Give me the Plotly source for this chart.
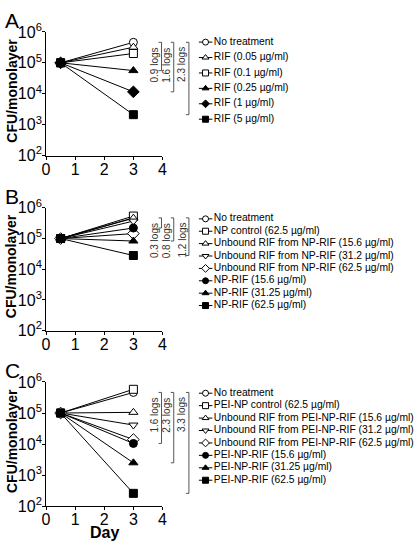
import math
import plotly.graph_objects as go

W, H = 416, 548
FONT = "Liberation Sans, Arial, sans-serif"

# ---------------- data ----------------
days = [0.5, 3]
start_cfu = 1e5

a_labels = ["No treatment", "RIF (0.05 µg/ml)", "RIF (0.1 µg/ml)",
            "RIF (0.25 µg/ml)", "RIF (1 µg/ml)", "RIF (5 µg/ml)"]
a_day3 = [4.6e5, 3.2e5, 2.0e5, 5.6e4, 1.15e4, 2.1e3]
a_symbols = ["circle", "triangle-up", "square", "triangle-up", "diamond", "square"]
a_filled = [False, False, False, True, True, True]
a_br_top = 4.6e5
a_br_bottom = [5.6e4, 1.15e4, 2.1e3]
a_br_text = ["0.9 logs", "1.6 logs", "2.3 logs"]

b_labels = ["No treatment", "NP control (62.5 µg/ml)",
            "Unbound RIF from NP-RIF (15.6 µg/ml)",
            "Unbound RIF from NP-RIF (31.2 µg/ml)",
            "Unbound RIF from NP-RIF (62.5 µg/ml)",
            "NP-RIF (15.6 µg/ml)", "NP-RIF (31.25 µg/ml)", "NP-RIF (62.5 µg/ml)"]
b_day3 = [4.7e5, 5.4e5, 4.6e5, 3.7e5, 1.45e5, 2.2e5, 8.3e4, 2.8e4]
b_symbols = ["circle", "square", "triangle-up", "triangle-down", "diamond",
             "circle", "triangle-up", "square"]
b_filled = [False, False, False, False, False, True, True, True]
b_br_top = 4.7e5
b_br_bottom = [2.2e5, 8.3e4, 2.8e4]
b_br_text = ["0.3 logs", "0.8 logs", "1.2 logs"]

c_labels = ["No treatment", "PEI-NP control (62.5 µg/ml)",
            "Unbound RIF from PEI-NP-RIF (15.6 µg/ml)",
            "Unbound RIF from PEI-NP-RIF (31.2 µg/ml)",
            "Unbound RIF from PEI-NP-RIF (62.5 µg/ml)",
            "PEI-NP-RIF (15.6 µg/ml)", "PEI-NP-RIF (31.25 µg/ml)",
            "PEI-NP-RIF (62.5 µg/ml)"]
c_day3 = [4.6e5, 5.8e5, 1.05e5, 4.1e4, 1.4e4, 1.05e4, 2.5e3, 2.6e2]
c_symbols = b_symbols
c_filled = b_filled
c_br_top = 4.6e5
c_br_bottom = [1.05e4, 2.5e3, 2.6e2]
c_br_text = ["1.6 logs", "2.3 logs", "3.3 logs"]

x_ticks = [0, 1, 2, 3, 4]
y_tickvals = [1e2, 1e3, 1e4, 1e5, 1e6]
y_ticktext = ["10<sup>2</sup>", "10<sup>3</sup>", "10<sup>4</sup>",
              "10<sup>5</sup>", "10<sup>6</sup>"]
panel_letters = ["A", "B", "C"]

# ---------------- layout helpers ----------------
def px_x(p):
    return p / W

def px_y(p):
    return 1 - p / H

plot_x = (43, 162)
plot_y = [(21.7, 150), (204.3, 331.7), (385, 514)]
legend_rows = [(32.3, 16.0), (215.7, 12.86), (396.7, 12.9)]
legend_x0 = 199          # px where the legend key line starts
legend_w = 20            # px width of the (invisible) legend axis
key_len = 14             # px length of the key line
text_at = 15.5           # px where the label anchor sits
bracket_px = [161, 173.5, 189]

panels = [
    (a_labels, a_day3, a_symbols, a_filled, a_br_top, a_br_bottom, a_br_text),
    (b_labels, b_day3, b_symbols, b_filled, b_br_top, b_br_bottom, b_br_text),
    (c_labels, c_day3, c_symbols, c_filled, c_br_top, c_br_bottom, c_br_text),
]

fig = go.Figure()
layout = dict(
    width=W, height=H, margin=dict(l=0, r=0, t=0, b=0),
    paper_bgcolor="white", plot_bgcolor="white",
    showlegend=False, font=dict(family=FONT, color="black"),
)
shapes = []
annotations = []

for k, (labels, day3, symbols, filled, br_top, br_bottom, br_text) in enumerate(panels):
    n = len(labels)
    xa = f"x{k+1}" if k else "x"
    ya = f"y{k+1}" if k else "y"
    lxa = f"x{k+4}"
    lya = f"y{k+4}"
    # data traces
    for i in range(n):
        fig.add_trace(go.Scatter(
            x=days, y=[start_cfu, day3[i]], mode="lines+markers",
            xaxis=xa, yaxis=ya, cliponaxis=False,
            line=dict(color="black", width=1),
            marker=dict(symbol=symbols[i], size=8 if symbols[i] != "diamond" else 9,
                        color="black" if filled[i] else "white",
                        line=dict(color="black", width=1)),
        ))
    # legend keys
    for i in range(n):
        fig.add_trace(go.Scatter(
            x=[0, key_len], y=[i, i], mode="lines", xaxis=lxa, yaxis=lya,
            line=dict(color="black", width=1), hoverinfo="skip"))
        fig.add_trace(go.Scatter(
            x=[key_len / 2], y=[i], mode="markers", xaxis=lxa, yaxis=lya,
            cliponaxis=False,
            marker=dict(symbol=symbols[i], size=6,
                        color="black" if filled[i] else "white",
                        line=dict(color="black", width=1)), hoverinfo="skip"))
    fig.add_trace(go.Scatter(
        x=[text_at] * n, y=list(range(n)), mode="text", text=labels,
        textposition="middle right", xaxis=lxa, yaxis=lya, cliponaxis=False,
        textfont=dict(size=10.3, family=FONT, color="black"), hoverinfo="skip"))

    top, bot = plot_y[k]
    xkey = "xaxis" + (str(k + 1) if k else "")
    ykey = "yaxis" + (str(k + 1) if k else "")
    layout[xkey] = dict(
        domain=[px_x(plot_x[0]), px_x(plot_x[1])], range=[0, 4], anchor=ya,
        tickvals=x_ticks, ticks="outside", ticklen=3, tickcolor="black",
        showline=True, linecolor="black", linewidth=1, showgrid=False,
        zeroline=False, ticklabelstandoff=-4,
        tickfont=dict(size=16, family=FONT, color="black"))
    layout[ykey] = dict(
        domain=[px_y(bot), px_y(top)], type="log", range=[2, 6], anchor=xa,
        tickvals=y_tickvals, ticktext=y_ticktext, ticks="outside", ticklen=3,
        tickcolor="black", showline=True, linecolor="black", linewidth=1,
        showgrid=False, zeroline=False, ticklabelstandoff=-3,
        tickfont=dict(size=16, family=FONT, color="black"))
    first, step = legend_rows[k]
    layout[f"xaxis{k+4}"] = dict(
        domain=[px_x(legend_x0), px_x(legend_x0 + legend_w)], range=[0, legend_w],
        anchor=lya, visible=False)
    layout[f"yaxis{k+4}"] = dict(
        domain=[px_y(first + (n - 0.5) * step), px_y(first - 0.5 * step)],
        range=[n - 0.5, -0.5], anchor=lxa, visible=False)

    # brackets
    for j, (bb, txt) in enumerate(zip(br_bottom, br_text)):
        bx = px_x(bracket_px[j])
        tick = px_x(3)
        for (x0, x1, y0, y1) in [(bx, bx, br_top, bb),
                                 (bx - tick, bx, br_top, br_top),
                                 (bx - tick, bx, bb, bb)]:
            shapes.append(dict(type="line", xref="paper", yref=ya,
                               x0=x0, x1=x1, y0=y0, y1=y1,
                               line=dict(color="#555555", width=1)))
        annotations.append(dict(
            text=txt, textangle=-90, xref="paper", yref=ya,
            x=px_x(bracket_px[j] - 7), y=math.log10(br_top),
            xanchor="center", yanchor="top", yshift=-3, showarrow=False,
            font=dict(size=10, family=FONT, color="#333333")))

    # y title
    annotations.append(dict(
        text="<b>CFU/monolayer</b>", textangle=-90, xref="paper", yref="paper",
        x=px_x(8), y=px_y((top + bot) / 2 - 3), xanchor="center", yanchor="middle",
        showarrow=False, font=dict(size=14, family=FONT, color="black")))
    # panel letter
    annotations.append(dict(
        text=panel_letters[k], xref="paper", yref="paper",
        x=px_x(-1), y=px_y(top - 11.5), xanchor="left", yanchor="middle",
        showarrow=False, font=dict(size=21, family=FONT, color="black")))

annotations.append(dict(
    text="<b>Day</b>", xref="x3", yref="paper", x=2, y=px_y(541),
    xanchor="center", yanchor="middle", showarrow=False,
    font=dict(size=16, family=FONT, color="black")))

layout["shapes"] = shapes
layout["annotations"] = annotations
fig.update_layout(**layout)
fig.write_html("out.html",
               config={"displayModeBar": False},
               post_script="document.body.style.margin='0px';"
                           "document.body.style.overflow='hidden';")
